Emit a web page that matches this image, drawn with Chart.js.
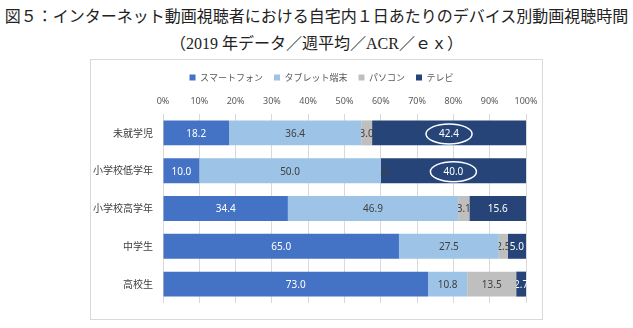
<!DOCTYPE html>
<html lang="ja">
<head>
<meta charset="UTF-8">
<title>デバイス別動画視聴時間</title>
<script src="https://cdn.jsdelivr.net/npm/chart.js"></script>
<style>
    body {
        margin: 0;
        padding: 0;
        background: #ffffff;
        width: 633px;
        height: 328px;
        position: relative;
        overflow: hidden;
    }
    .title {
        position: absolute;
        left: 0;
        width: 633px;
        text-align: center;
        font-family: "Liberation Serif", "Noto Sans CJK JP", serif;
        color: #222;
        white-space: nowrap;
    }
    #t1 { top: 6px; font-size: 16px; line-height: 22px; }
    #t2 { top: 33px; font-size: 16px; line-height: 22px; }
    .frame {
        position: absolute;
        left: 90px;
        top: 59px;
        width: 453px;
        height: 261px;
        box-sizing: border-box;
        border: 1px solid #d9d9d9;
    }
</style>
</head>
<body>
<div class="title" id="t1">図５：インターネット動画視聴者における自宅内１日あたりのデバイス別動画視聴時間</div>
<div class="title" id="t2">（2019 年データ／週平均／ACR／ｅｘ）</div>
<div class="frame"><canvas id="chart" width="451" height="259"></canvas></div>

<script>
    // categories (top to bottom)
    const groups = ["未就学児", "小学校低学年", "小学校高学年", "中学生", "高校生"];
    const seriesNames = ["スマートフォン", "タブレット端末", "パソコン", "テレビ"];
    // share of viewing time (%)
    const smartphone = [18.2, 10.0, 34.4, 65.0, 73.0];
    const tablet = [36.4, 50.0, 46.9, 27.5, 10.8];
    const pc = [3.0, 0.0, 3.1, 2.5, 13.5];
    const tv = [42.4, 40.0, 15.6, 5.0, 2.7];
    const xTicks = [0, 10, 20, 30, 40, 50, 60, 70, 80, 90, 100];
    // which TV values get the circle mark
    const circled = [0, 1];

    const colors = ["#4472c4", "#9dc3e6", "#bfbfbf", "#264478"];
    const labelColors = ["#ffffff", "#404040", "#404040", "#ffffff"];

    // draw value labels right after each dataset, so later bars cover overflow
    const valueLabels = {
        id: "valueLabels",
        afterLayout(chart) {
            // legend sits a bit right of the canvas centre
            chart.legend.left += 13;
            chart.legend.right += 13;
        },
        afterDatasetDraw(chart, args) {
            const ctx = chart.ctx;
            const i = args.index;
            const meta = chart.getDatasetMeta(i);
            const data = chart.data.datasets[i].data;
            ctx.save();
            ctx.font = "10px 'Noto Sans', sans-serif";
            ctx.fillStyle = labelColors[i];
            ctx.textAlign = "center";
            ctx.textBaseline = "middle";
            meta.data.forEach((bar, j) => {
                const p = bar.getProps(["x", "y", "base"], true);
                ctx.fillText(data[j].toFixed(1), (p.x + p.base) / 2, p.y + 1);
            });
            ctx.restore();
        },
        afterDatasetsDraw(chart) {
            const ctx = chart.ctx;
            const meta = chart.getDatasetMeta(3);
            ctx.save();
            ctx.strokeStyle = "#ffffff";
            ctx.lineWidth = 1.5;
            circled.forEach(j => {
                const p = meta.data[j].getProps(["x", "y", "base"], true);
                ctx.beginPath();
                ctx.ellipse((p.x + p.base) / 2, p.y + 1, 23, 10, 0, 0, Math.PI * 2);
                ctx.stroke();
            });
            ctx.restore();
        }
    };

    new Chart(document.getElementById("chart"), {
        type: "bar",
        data: {
            labels: groups,
            datasets: [smartphone, tablet, pc, tv].map((d, i) => ({
                label: seriesNames[i],
                data: d,
                backgroundColor: colors[i],
                borderWidth: 0,
                barPercentage: 0.66,
                categoryPercentage: 1
            }))
        },
        options: {
            indexAxis: "y",
            responsive: false,
            animation: false,
            layout: { padding: { top: 2, right: 16, bottom: 10, left: 0 } },
            plugins: {
                tooltip: { enabled: false },
                legend: {
                    position: "top",
                    labels: {
                        boxWidth: 6,
                        boxHeight: 6,
                        padding: 11,
                        color: "#595959",
                        font: { size: 9, family: "'Noto Sans CJK JP', sans-serif" }
                    }
                }
            },
            scales: {
                x: {
                    position: "top",
                    stacked: true,
                    min: 0,
                    max: 100,
                    afterBuildTicks(scale) {
                        scale.ticks = xTicks.map(v => ({ value: v }));
                    },
                    afterFit(scale) {
                        scale.height = 22;
                        scale.paddingLeft = 0;
                        scale.paddingRight = 0;
                    },
                    border: { display: false },
                    grid: { color: "#d9d9d9", drawTicks: false },
                    ticks: {
                        padding: 7,
                        color: "#595959",
                        font: { size: 9, family: "'Noto Sans', sans-serif" },
                        callback: v => v + "%"
                    }
                },
                y: {
                    stacked: true,
                    afterFit(scale) { scale.width = 72; },
                    border: { display: false },
                    grid: { display: false, drawTicks: false },
                    ticks: {
                        padding: 10,
                        color: "#404040",
                        font: { size: 10, family: "'Noto Sans CJK JP', sans-serif" }
                    }
                }
            }
        },
        plugins: [valueLabels]
    });
</script>
</body>
</html>
